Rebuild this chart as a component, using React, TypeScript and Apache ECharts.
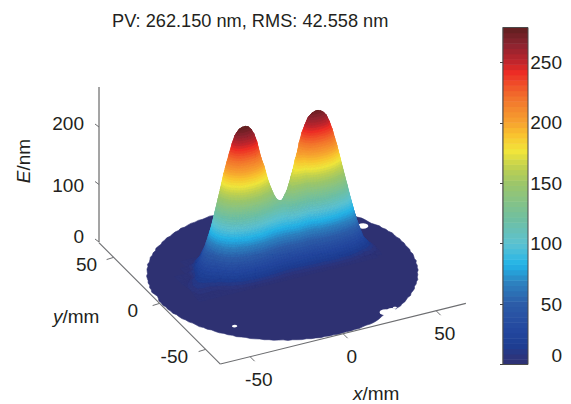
import React, { useEffect, useRef } from "react";
import * as echarts from "echarts";

const titleText = "PV: 262.150 nm, RMS: 42.558 nm";
const xTicks = [-50, 0, 50];
const yTicks = [50, 0, -50];
const yLabelNudge = [-16.6, -21.6, -17.6];
const zTicks = [0, 100, 200];
const zLabelNudge = [-6, 0.5, -4];
const colorTicks = [0, 50, 100, 150, 200, 250];
const colorMax = 279;
const bandCount = 64;
const colorStops: [number, string][] = [
  [0, "#2e3172"], [8, "#2b3680"], [16, "#1d3e93"], [30, "#24489f"], [50, "#2c5ca8"], [68, "#2d82c0"],
  [83, "#22b4e8"], [100, "#5cc2d2"], [120, "#6fbfa2"], [150, "#9cc66a"], [165, "#c4d24c"],
  [177, "#f2e63a"], [190, "#f9c32f"], [201, "#f6a12f"], [222, "#f2702c"], [242, "#ec2c25"],
  [251, "#bf252c"], [265, "#8c2430"], [279, "#5f1f1f"],
];

// Heights: columns are xNodes, rows are yNodes (mm / nm).
const xNodes = [-48,-45,-42,-39,-36,-33,-30,-27,
  -24,-22.5,-21,-19.5,-18,-16.5,-15,-13.5,-12,-10.5,-9,-7.5,
  -6,-4.5,-3,-1.5,0,1.5,3,4.5,6,7.5,9,10.5,12,13.5,15,
  16.5,18,19.5,21,22.5,24,25.5,27,28.5,30,31.5,33,34.5,36,
  39,42,45,48,51];
const yNodes = [-7,-5,-3,-1,1,3,5,7,9,11,13,15,20,26,32];
const zeroRow = xNodes.map(() => 0);
const rowM5 = [0,2,2,1,2,3,5,8, 10,11,12,13,14,14,14,14,14,14,13,12, 11,10,9,8,7,7,6,6,7,7,8,9,9,10,11, 11,12,13,13,14,14,14,14,13,13,12,12,11,9, 6,3,3,0,0];
const rowM3 = [1,4,4,3,4,6,10,15, 20,22,24,26,27,28,28,28,28,27,26,25, 23,22,21,19,19,18,18,19,20,21,22,22,22,22,22, 22,24,26,27,27,28,28,27,27,26,25,23,22,20, 15,9,8,4,1];
const rowM1 = [2,7,7,6,9,11,19,27, 36,39,43,46,49,50,50,50,50,49,47,44, 43,41,39,37,37,36,37,37,40,41,43,42,42,41,41, 40,44,46,48,49,50,50,49,48,47,45,42,41,38, 31,20,14,8,2];
const rowP1 = [3,9,10,10,14,17,30,44, 57,64,69,74,78,80,81,81,80,79,76,71, 68,65,62,60,61,60,62,63,68,69,71,69,66,65,65, 65,70,74,78,79,80,80,79,78,76,72,68,65,60, 50,34,20,11,3];
const rowP3 = [4,10,13,15,21,25,43,63, 83,92,100,108,113,116,117,117,116,114,110,103, 100,96,92,91,90,88,90,92,99,101,105,103,99,97,96, 94,102,108,113,115,116,116,115,113,110,105,98,96,89, 75,50,25,12,3];
const rowP5 = [4,10,15,19,28,34,59,86, 113,125,135,146,154,158,159,159,158,154,149,140, 136,129,121,115,115,112,113,115,124,127,134,131,130,130,130, 127,138,146,153,156,157,157,156,153,149,142,133,130,119, 95,62,26,10,2];
const rowP7 = [3,8,16,22,34,43,73,107, 141,155,168,182,192,197,198,198,197,192,185,174, 164,159,147,136,132,127,127,129,139,145,155,155,157,160,158, 158,172,182,190,194,195,195,194,191,186,177,165,158,147, 112,70,22,7,1];
const rowP9 = [2,6,14,25,39,50,87,126, 166,184,199,215,227,233,234,234,233,228,219,206, 192,180,166,151,137,127,123,125,135,145,159,172,178,181,184, 187,203,215,225,229,231,231,229,226,220,209,196,184,167, 125,68,15,4,0];
const rowP11 = [0,3,9,24,42,56,97,141, 186,206,223,241,254,260,262,262,260,255,245,230, 212,196,170,146,127,115,108,110,118,131,148,167,182,197,204, 210,227,241,252,257,259,259,257,253,246,234,219,204,181, 121,60,10,2,0];
const rowP13 = [0,1,5,21,41,60,103,150, 198,219,237,256,270,277,279,279,277,271,261,245, 217,190,157,128,104,92,85,86,93,105,121,146,168,191,208, 223,242,256,268,273,275,275,273,269,262,249,233,208,176, 106,47,5,1,0];
const rowP15 = [0,1,2,16,36,58,100,146, 192,212,230,248,262,269,271,271,269,263,253,238, 197,167,128,98,76,65,57,58,63,74,89,112,137,167,189, 216,235,248,260,265,267,267,265,261,254,242,226,189,154, 81,32,2,0,0];
const rowP20 = [0,0,0,5,17,33,57,83, 109,120,130,141,149,152,153,153,152,149,144,135, 103,78,51,30,17,14,13,13,14,16,19,34,55,79,99, 123,133,141,147,150,151,151,150,148,144,137,128,99,72, 25,7,0,0,0];
const rowP26 = [0,0,0,0,1,6,10,15, 20,22,24,26,27,28,28,28,28,27,26,25, 11,6,0,0,0,0,0,0,0,0,0,0,0,6,11, 22,24,26,27,27,28,28,27,27,26,25,23,11,5, 0,0,0,0,0];
const heightRows = [zeroRow,rowM5,rowM3,rowM1,rowP1,rowP3,rowP5,rowP7,rowP9,rowP11,rowP13,rowP15,rowP20,rowP26,zeroRow];

// Aperture edge radius (mm) every 2 degrees, and the small gaps in the aperture.
const apertureRadii = [
  65.4,65.1,65.5,65.0,65.3,65.6,65.1,65.4,64.9,65.3,64.8,64.4,64.7,65.2,65.5,65.1,65.4,65.0,65.6,65.2,
  65.0,65.5,65.2,65.4,65.0,65.6,65.1,65.3,65.5,65.0,65.4,65.1,65.6,65.2,65.0,65.5,65.1,65.4,64.9,65.3,
  65.6,65.1,65.3,65.0,65.5,65.2,65.4,65.0,65.6,65.2,65.0,65.4,65.1,65.5,65.3,65.0,65.6,65.1,65.4,65.2,
  65.0,65.5,65.2,65.4,64.9,65.3,65.6,65.0,65.4,65.1,65.5,65.2,65.0,65.6,65.1,65.4,65.2,65.0,65.5,65.3,
  65.1,65.4,65.0,65.5,65.2,65.6,64.9,64.2,64.6,65.3,65.1,65.5,65.0,65.4,65.2,65.6,65.0,65.3,65.5,65.1,
  65.4,65.0,65.2,65.6,65.1,65.4,64.9,65.3,65.5,65.0,65.4,65.1,65.6,65.2,65.0,65.5,65.3,65.0,65.4,65.1,
  65.5,65.2,65.0,65.6,65.1,65.3,65.5,65.0,65.4,65.2,65.6,65.0,65.3,65.1,65.5,65.2,65.0,65.4,65.1,65.6,
  65.2,65.0,65.4,65.3,65.0,64.6,64.0,63.6,64.2,64.9,65.3,65.0,65.5,65.1,65.4,65.2,65.0,65.6,65.1,65.3,
  65.5,65.0,65.4,65.2,65.6,65.1,65.3,65.0,65.5,65.2,65.4,65.0,65.6,65.1,65.3,65.5,65.0,65.4,65.2,65.1];
const apertureGaps: [number, number, number][] = [
  [-43.5, -36, 1.3], [27.6, -56.5, 3], [31, -56, 2.2], [33.5, -54.5, 1.0], [55, 23.6, 2.6], [52.6, 25, 1.6],
];

const TEXT = "#231f20";
const FONT = "Liberation Sans";
const FS = 19;
const surfaceK = 0.505;
const axisK = 0.575;
const proj = (x: number, y: number, z = 0): [number, number] => [
  282.4 + 1.86 * x - 0.92 * y,
  273 - 0.46 * x - 0.92 * y - surfaceK * z,
];

const hexToRgb = (h: string) => [1, 3, 5].map((i) => parseInt(h.slice(i, i + 2), 16));
function colorAt(v: number) {
  for (let i = 1; i < colorStops.length; i++) {
    if (v <= colorStops[i][0]) {
      const [a, ca] = colorStops[i - 1];
      const [b, cb] = colorStops[i];
      const t = (v - a) / (b - a);
      const A = hexToRgb(ca), B = hexToRgb(cb);
      return `rgb(${A.map((c, k) => Math.round(c + (B[k] - c) * t)).join(",")})`;
    }
  }
  return colorStops[colorStops.length - 1][1];
}
const bandStep = colorMax / bandCount;
const bandIdx = Array.from({ length: bandCount }, (_, i) => i);
const bandColors = bandIdx.map((i) => colorAt((i + 0.5) * bandStep));

type P3 = [number, number, number];
function clip(poly: P3[], level: number, keepAbove: boolean): P3[] {
  const out: P3[] = [];
  for (let i = 0; i < poly.length; i++) {
    const a = poly[i], b = poly[(i + 1) % poly.length];
    const ia = keepAbove ? a[2] >= level : a[2] <= level;
    const ib = keepAbove ? b[2] >= level : b[2] <= level;
    if (ia) out.push(a);
    if (ia !== ib) {
      const t = (level - a[2]) / (b[2] - a[2]);
      out.push([a[0] + (b[0] - a[0]) * t, a[1] + (b[1] - a[1]) * t, level]);
    }
  }
  return out;
}

const cells: number[][] = [];
for (let j = 0; j < yNodes.length - 1; j++) {
  for (let i = 0; i < xNodes.length - 1; i++) {
    const m = Math.max(heightRows[j][i], heightRows[j][i + 1], heightRows[j + 1][i], heightRows[j + 1][i + 1]);
    if (m > 0) cells.push([i, j]);
  }
}
const depth = (c: number[]) => 0.46 * xNodes[c[0]] + 0.92 * yNodes[c[1]];
cells.sort((a, b) => depth(b) - depth(a));

function App() {
  const ref = useRef<HTMLDivElement>(null);
  useEffect(() => {
    document.body.style.margin = "0";
    const chart = echarts.init(ref.current!, undefined, { renderer: "svg" });
    const tText = (text: string, x: number, y: number, align: string) => ({
      type: "text",
      x, y,
      style: { text, x: 0, y: 0, fill: TEXT, font: `${FS}px "${FONT}"`, align, verticalAlign: "middle" },
    });
    const rich = {
      i: { fontStyle: "italic", fontSize: FS, fontFamily: FONT, fill: TEXT, color: TEXT },
      n: { fontSize: FS, fontFamily: FONT, fill: TEXT, color: TEXT },
    };
    const lineEl = (a: number[], b: number[], stroke: string, w: number) => ({
      type: "line",
      shape: { x1: a[0], y1: a[1], x2: b[0], y2: b[1] },
      style: { stroke, lineWidth: w },
    });

    const option: any = {
      animation: false,
      backgroundColor: "#ffffff",
      title: {
        text: titleText, left: 107, top: 7,
        textStyle: { fontSize: 18.2, fontWeight: "normal", fontFamily: FONT, color: TEXT },
      },
      grid: [
        { left: 0, top: 0, width: 571, height: 404, show: false },
        { left: 503, top: 27.5, width: 25, height: 337, show: true, borderColor: "#4a4a4a", borderWidth: 1, z: 5 },
      ],
      graphic: [{ type: "rect", left: 502, top: 27, shape: { width: 1, height: 338 }, style: { fill: "#b5b5b5" } }],
      xAxis: [
        { type: "value", gridIndex: 0, min: 0, max: 571, show: false },
        { type: "value", gridIndex: 1, min: 0, max: 1, show: false },
      ],
      yAxis: [
        { type: "value", gridIndex: 0, min: 0, max: 404, inverse: true, show: false },
        {
          type: "value", gridIndex: 1, position: "right", min: 0, max: colorMax,
          splitLine: { show: false },
          axisLine: { show: false },
          axisTick: { show: true, inside: true, length: 3, customValues: colorTicks, lineStyle: { color: "#444" } },
          axisLabel: {
            customValues: colorTicks, align: "right", margin: 34, fontSize: FS, fontFamily: FONT, color: TEXT,
            verticalAlignMinLabel: "bottom",
          },
        },
      ],
      series: [
        {
          type: "custom", xAxisIndex: 0, yAxisIndex: 0, clip: false, silent: true, z: 2,
          data: [[0, 0]],
          renderItem: (_: any, api: any) => {
            const c = (p: number[]) => api.coord(p);
            const children: any[] = [];
            const pts = apertureRadii.map((r, k) => {
              const a = (k * 2 * Math.PI) / 180;
              return c(proj(r * Math.cos(a), r * Math.sin(a)));
            });
            children.push({ type: "polygon", shape: { points: pts }, style: { fill: colorStops[0][1], stroke: colorStops[0][1], lineWidth: 0.6 } });
            apertureGaps.forEach(([x, y, r]) => {
              const g = Array.from({ length: 12 }, (_, k) => {
                const a = (k * 30 * Math.PI) / 180;
                return c(proj(x + r * Math.cos(a), y + r * Math.sin(a)));
              });
              children.push({ type: "polygon", shape: { points: g }, style: { fill: "#ffffff" } });
            });
            return { type: "group", children };
          },
        },
        {
          type: "custom", xAxisIndex: 0, yAxisIndex: 0, clip: false, silent: true, z: 3,
          data: [[0, 0]],
          renderItem: (_: any, api: any) => {
            const c = (p: number[]) => api.coord(p);
            const grey = "#6d6e71";
            const zBase = 242;
            const E = 66;
            const ch: any[] = [];
            ch.push(lineEl(c(proj(-E, E)), c(proj(-E, -E)), grey, 1.1));
            ch.push(lineEl(c(proj(-E, -E)), c(proj(E, -E)), grey, 1.1));
            ch.push(lineEl(c([99, zBase]), c([99, 87]), "#4a4a4a", 1));
            xTicks.forEach((t) => {
              const p = proj(t, -E);
              ch.push(lineEl(c(p), c([p[0] + 4.5, p[1] + 4.5]), grey, 1));
              ch.push(tText(String(t), p[0] + 8.7, p[1] + 22.5, "center"));
            });
            yTicks.forEach((t, k) => {
              const p = proj(-E, t);
              ch.push(lineEl(c(p), c([p[0] - 7, p[1] + 2.2]), grey, 1));
              ch.push(tText(String(t), p[0] + yLabelNudge[k], p[1] + 7.5, "right"));
            });
            zTicks.forEach((t, k) => {
              const py = zBase - axisK * t;
              ch.push(lineEl(c([99, py]), c([95, py - 3]), grey, 1));
              ch.push(tText(String(t), 84, py + zLabelNudge[k], "right"));
            });
            ch.push({ type: "text", x: 353, y: 393, style: { text: "{i|x}{n|/mm}", rich, x: 0, y: 0, align: "left", verticalAlign: "middle" } });
            ch.push({ type: "text", x: 53, y: 316, style: { text: "{i|y}{n|/mm}", rich, x: 0, y: 0, align: "left", verticalAlign: "middle" } });
            ch.push({ type: "text", x: 23, y: 161, rotation: Math.PI / 2, style: { text: "{i|E}{n|/nm}", rich, x: 0, y: 0, align: "center", verticalAlign: "middle" } });
            return { type: "group", children: ch };
          },
        },
        {
          type: "custom", xAxisIndex: 0, yAxisIndex: 0, clip: false, silent: true, z: 4,
          data: cells,
          renderItem: (params: any, api: any) => {
            const [i, j] = cells[params.dataIndex];
            const v = (a: number, b: number): P3 => [xNodes[a], yNodes[b], heightRows[b][a]];
            const tris: P3[][] = [
              [v(i + 1, j + 1), v(i, j + 1), v(i + 1, j)],
              [v(i, j + 1), v(i, j), v(i + 1, j)],
            ];
            const children: any[] = [];
            tris.forEach((tri) => {
              const zs = tri.map((p) => p[2]);
              const lo = Math.max(0, Math.floor(Math.min(...zs) / bandStep));
              const hi = Math.min(bandCount - 1, Math.floor(Math.max(...zs) / bandStep));
              for (let b = lo; b <= hi; b++) {
                let poly = clip(tri, b * bandStep, true);
                if (poly.length) poly = clip(poly, (b + 1) * bandStep, false);
                if (poly.length < 3) continue;
                children.push({
                  type: "polygon",
                  shape: { points: poly.map((p) => api.coord(proj(p[0], p[1], p[2]))) },
                  style: { fill: bandColors[b], stroke: bandColors[b], lineWidth: 0.5 },
                });
              }
            });
            return { type: "group", children };
          },
        },
        {
          type: "custom", xAxisIndex: 1, yAxisIndex: 1, silent: true, z: 2,
          data: bandIdx.map((i) => [0, i * bandStep]),
          renderItem: (params: any, api: any) => {
            const b = params.dataIndex;
            const a = api.coord([0, (b + 1) * bandStep]);
            const d = api.coord([1, b * bandStep]);
            return {
              type: "rect",
              shape: { x: a[0], y: a[1], width: d[0] - a[0], height: d[1] - a[1] + 0.5 },
              style: { fill: bandColors[b] },
            };
          },
        },
      ],
    };
    chart.setOption(option);
    return () => chart.dispose();
  }, []);
  return <div ref={ref} style={{ position: "fixed", left: 0, top: 0, width: 571, height: 404 }} />;
}

export default App;
